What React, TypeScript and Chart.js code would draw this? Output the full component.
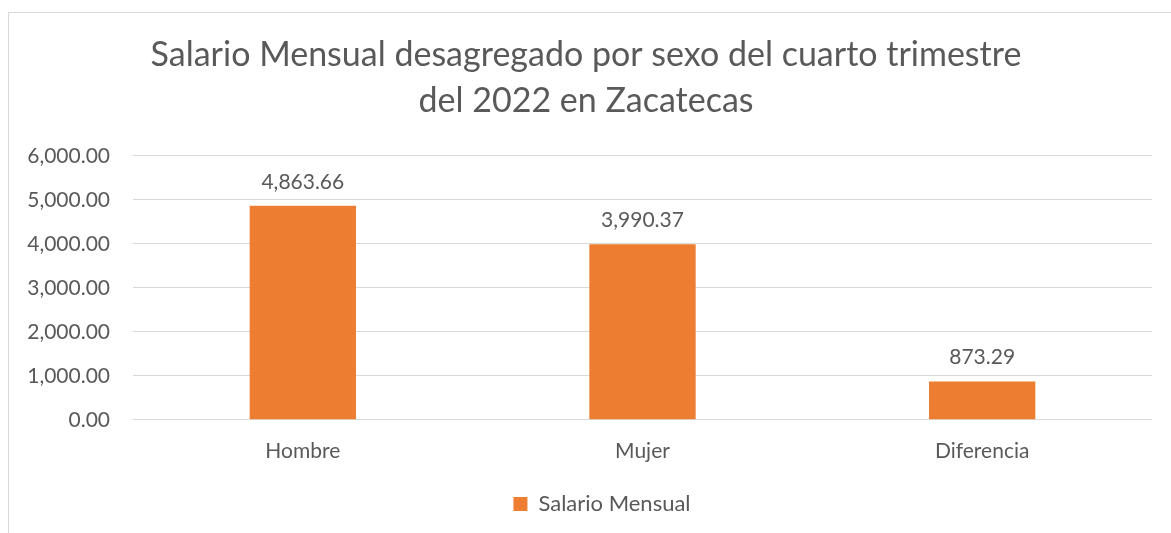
import React, { useEffect, useRef } from "react";
import { Chart, registerables } from "chart.js";

Chart.register(...registerables);

const categories = ["Hombre", "Mujer", "Diferencia"];
const salario = [4863.66, 3990.37, 873.29];
const seriesName = "Salario Mensual";
const titleLines = [
  "Salario Mensual desagregado por sexo del cuarto trimestre",
  "del 2022 en Zacatecas",
];
const yMin = 0;
const yMax = 6000;
const yStep = 1000;

const FONT = "Lato, 'Noto Sans', sans-serif";
const TEXT = "#595959";
const BAR = "#ED7D31";
const GRID = "#D9D9D9";

const fmt = (v: number) =>
  v.toLocaleString("en-US", { minimumFractionDigits: 2, maximumFractionDigits: 2 });

const valueLabels = {
  id: "valueLabels",
  afterDatasetsDraw(chart: any) {
    const ctx = chart.ctx;
    ctx.save();
    ctx.font = `21px ${FONT}`;
    ctx.fillStyle = TEXT;
    ctx.textAlign = "center";
    ctx.textBaseline = "alphabetic";
    chart.data.datasets.forEach((ds: any, di: number) => {
      const meta = chart.getDatasetMeta(di);
      meta.data.forEach((el: any, i: number) => {
        ctx.fillText(fmt(ds.data[i]), el.x, el.y - 17);
      });
    });
    ctx.restore();
  },
};

// Title and legend in the reference are centred slightly right of the plot's frame.
const boxShift = {
  id: "boxShift",
  afterLayout(chart: any) {
    const lg = chart.legend;
    if (lg) {
      lg.left += 26;
      lg.right += 26;
    }
    const tt = chart.titleBlock;
    if (tt) {
      tt.left += 10;
      tt.right += 10;
    }
  },
};

export default function App() {
  const ref = useRef<HTMLCanvasElement | null>(null);
  useEffect(() => {
    if (!ref.current) return;
    const chart = new Chart(ref.current, {
      type: "bar",
      data: {
        labels: categories,
        datasets: [
          {
            label: seriesName,
            data: salario,
            backgroundColor: BAR,
            borderWidth: 0,
            categoryPercentage: 1,
            barPercentage: 0.313,
          },
        ],
      },
      plugins: [valueLabels, boxShift],
      options: {
        animation: false,
        responsive: false,
        maintainAspectRatio: false,
        layout: { padding: { top: 0, right: 19, bottom: 8, left: 0 } },
        plugins: {
          title: {
            display: true,
            text: titleLines,
            color: TEXT,
            font: { family: FONT, size: 34, weight: "normal", lineHeight: 1.35 },
            padding: { top: 32, bottom: 32 },
          },
          legend: {
            display: true,
            position: "bottom",
            labels: {
              color: TEXT,
              font: { family: FONT, size: 22 },
              boxWidth: 14,
              boxHeight: 14,
              padding: 10,
            },
          },
          tooltip: { enabled: false },
        },
        scales: {
          x: {
            grid: { display: false, drawTicks: false },
            border: { display: false },
            ticks: { color: TEXT, font: { family: FONT, size: 21 }, padding: 19 },
          },
          y: {
            min: yMin,
            max: yMax,
            grid: { color: GRID, lineWidth: 1, drawTicks: false },
            border: { display: false },
            ticks: {
              stepSize: yStep,
              color: TEXT,
              font: { family: FONT, size: 21 },
              padding: 23,
              callback: (v: any) => fmt(Number(v)),
            },
            afterFit: (scale: any) => {
              scale.width = 133;
            },
          },
        },
      },
    });
    return () => chart.destroy();
  }, []);

  return (
    <div
      style={{
        position: "fixed",
        left: 0,
        top: 0,
        width: 1171,
        height: 533,
        overflow: "hidden",
        background: "#fff",
      }}
    >
      <div
        style={{
          position: "absolute",
          left: 8,
          top: 12,
          width: 1300,
          height: 700,
          border: "1px solid #D9D9D9",
          boxSizing: "border-box",
        }}
      />
      <canvas
        ref={ref}
        width={1171}
        height={533}
        style={{ position: "absolute", left: 0, top: 0, width: 1171, height: 533 }}
      />
    </div>
  );
}
